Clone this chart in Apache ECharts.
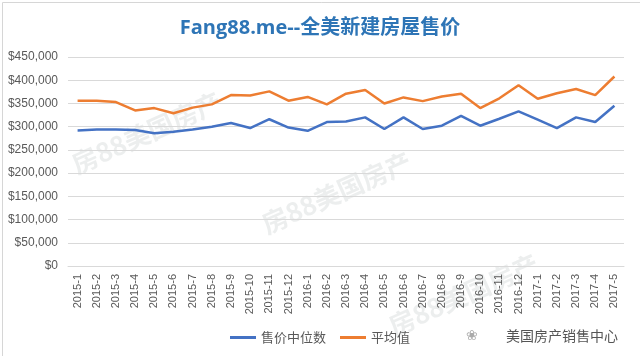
<!DOCTYPE html>
<html><head><meta charset="utf-8">
<script src="https://cdn.jsdelivr.net/npm/echarts@6/dist/echarts.min.js"></script>
<style>html,body{margin:0;padding:0;background:#fff}#c{width:640px;height:356px}</style>
</head><body><div id="c"></div>
<script>
var categories = ['2015-1','2015-2','2015-3','2015-4','2015-5','2015-6','2015-7','2015-8','2015-9','2015-10','2015-11','2015-12',
 '2016-1','2016-2','2016-3','2016-4','2016-5','2016-6','2016-7','2016-8','2016-9','2016-10','2016-11','2016-12',
 '2017-1','2017-2','2017-3','2017-4','2017-5'];
var medianPrice = [292000,294000,294000,293000,286000,289000,294000,300000,308000,297000,316000,298000,
 291000,310000,311000,320000,295000,320000,295000,302000,323000,302000,317000,333000,
 315000,297000,320000,310000,345000];
var averagePrice = [356000,356000,353000,335000,340000,329000,341000,348000,368000,367000,376000,356000,
 364000,348000,371000,379000,350000,363000,355000,365000,371000,340000,361000,389000,
 360000,372000,381000,368000,408000];
var seriesNames = ['售价中位数','平均值'];
var yTicks = {min:0, max:450000, interval:50000};

var chart = echarts.init(document.getElementById('c'));
function wm(x, y, size) {
  return {type:'text', left:x, top:y, rotation: 0.42, z:0,
    style:{text:'房88美国房产', fontSize:size, fontFamily:'Noto Sans CJK SC', fill:'rgba(150,160,160,0.18)', fontWeight:'bold'}};
}
chart.setOption({
  animation:false,
  backgroundColor:'#fff',
  title:{text:'Fang88.me--全美新建房屋售价', left:'center', top:13,
    textStyle:{color:'#2E75B6', fontSize:20, fontWeight:'bold', fontFamily:'"Open Sans","Noto Sans CJK SC",sans-serif'}},
  graphic:[
    {type:'rect', left:0, top:0, shape:{width:639, height:355}, style:{fill:'none', stroke:'#d6d6d6', lineWidth:1}, z:-1},
    wm(68, 88, 26), wm(258, 148, 26), wm(385, 250, 26),
    {type:'text', right:22, top:329, z:10, style:{text:'美国房产销售中心', fontSize:14, fontFamily:'Noto Sans CJK SC', fill:'#555'}},
    {type:'text', left:466, top:329, z:10, style:{text:'❀', fontSize:14, fill:'#aaa'}}
  ],
  grid:{left:68, right:16, top:57, bottom:90},
  legend:{bottom:7, left:'center', itemWidth:26, itemHeight:3, itemGap:14, icon:'rect',
    textStyle:{color:'#595959', fontSize:13, fontFamily:'Noto Sans CJK SC'},
    data:seriesNames},
  xAxis:{type:'category', data:categories, boundaryGap:true,
    axisLine:{lineStyle:{color:'#d9d9d9'}}, axisTick:{show:false},
    axisLabel:{rotate:90, interval:0, color:'#595959', fontSize:11, fontFamily:'"Liberation Sans",Arial,sans-serif', margin:8}},
  yAxis:{type:'value', min:yTicks.min, max:yTicks.max, interval:yTicks.interval,
    axisLine:{show:false}, axisTick:{show:false},
    splitLine:{lineStyle:{color:'#d9d9d9'}},
    axisLabel:{color:'#595959', fontSize:12, fontFamily:'"Liberation Sans",Arial,sans-serif', margin:10,
      formatter:function(v){return '$'+v.toLocaleString('en-US');}}},
  series:[
    {name:seriesNames[0], type:'line', data:medianPrice, symbol:'none', lineStyle:{color:'#4472C4', width:2.5}, itemStyle:{color:'#4472C4'}},
    {name:seriesNames[1], type:'line', data:averagePrice, symbol:'none', lineStyle:{color:'#ED7D31', width:2.5}, itemStyle:{color:'#ED7D31'}}
  ]
});
</script></body></html>
